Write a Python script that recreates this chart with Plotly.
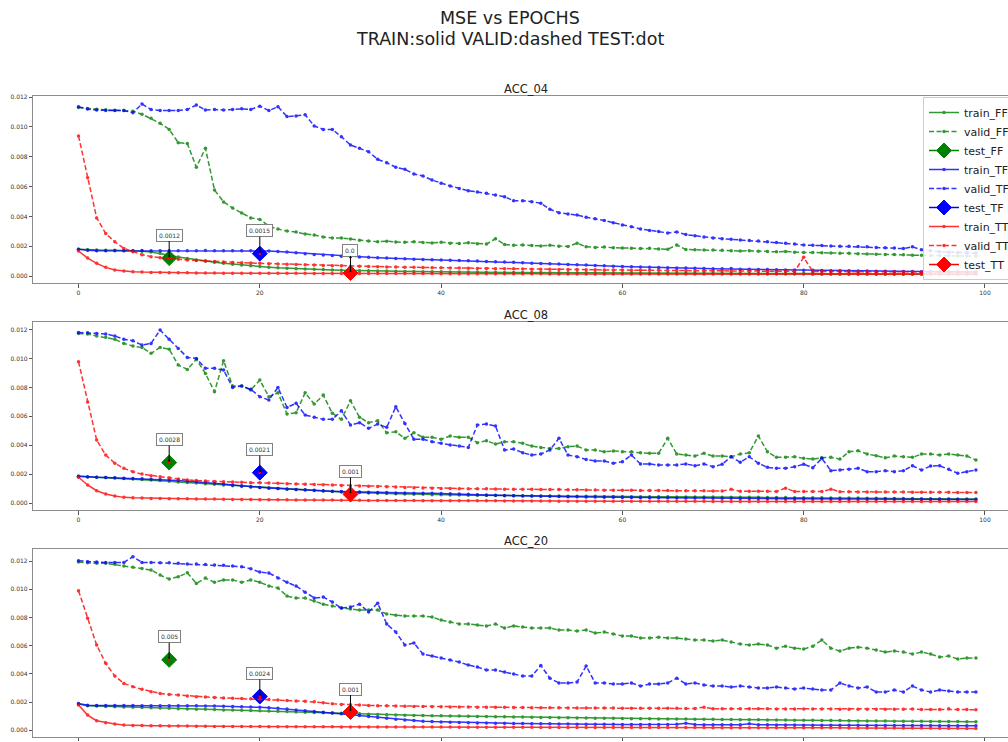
import plotly.graph_objects as go

# ---------------------------------------------------------------
# Data: per-epoch MSE, stored in units of 1e-4
# ---------------------------------------------------------------
SCALE = 1e-4
panels = ["ACC_04", "ACC_08", "ACC_20"]
models = ["FF", "TF", "TT"]

# ACC_04
train_ff_04 = [
    18.0, 17.6, 17.4, 17.3, 17.2, 17.1, 16.9, 16.6, 16.1, 15.2,
    14.0, 12.8, 11.8, 10.8, 10.0, 9.2, 8.5, 7.9, 7.3, 6.8,
    6.3, 5.9, 5.5, 5.2, 4.9, 4.7, 4.5, 4.3, 4.1, 3.9,
    3.7, 3.6, 3.5, 3.4, 3.3, 3.2, 3.1, 3.0, 2.9, 2.8,
    2.8, 2.7, 2.7, 2.6, 2.6, 2.5, 2.5, 2.4, 2.4, 2.3,
    2.3, 2.3, 2.2, 2.2, 2.2, 2.1, 2.1, 2.1, 2.0, 2.0,
    2.0, 2.0, 1.9, 1.9, 1.9, 1.9, 1.8, 1.8, 1.8, 1.8,
    1.8, 1.7, 1.7, 1.7, 1.7, 1.7, 1.6, 1.6, 1.6, 1.6,
    1.6, 1.6, 1.5, 1.5, 1.5, 1.5, 1.5, 1.5, 1.4, 1.4,
    1.4, 1.4, 1.4, 1.4, 1.4, 1.3, 1.3, 1.3, 1.3, 1.3]
valid_ff_04 = [
    113.0, 112.4, 111.9, 111.5, 111.2, 111.0, 110.6, 108.6, 105.8, 102.5,
    98.4, 89.5, 89.0, 73.0, 85.7, 57.7, 49.7, 45.6, 42.3, 39.0,
    38.0, 33.5, 31.5, 30.2, 29.5, 28.2, 27.5, 26.2, 25.5, 25.5,
    24.8, 24.0, 23.5, 23.0, 23.4, 22.8, 22.6, 23.0, 22.4, 22.2,
    22.6, 22.0, 21.8, 22.3, 21.6, 21.4, 25.0, 21.2, 20.6, 20.8,
    20.4, 20.2, 20.6, 20.0, 19.8, 22.0, 19.6, 19.2, 19.4, 19.0,
    18.8, 18.6, 18.4, 18.6, 18.2, 18.0, 20.8, 17.8, 17.6, 17.4,
    17.4, 17.2, 17.0, 16.8, 17.0, 16.6, 16.4, 16.2, 16.4, 16.0,
    15.8, 15.8, 15.6, 15.4, 15.2, 15.2, 15.0, 14.8, 14.6, 14.4,
    14.4, 14.2, 14.0, 14.0, 13.8, 13.6, 13.6, 13.4, 13.4, 13.2]
train_tf_04 = [
    18.0, 17.2, 17.0, 17.0, 17.0, 17.0, 17.0, 17.1, 17.0, 17.0,
    17.0, 17.0, 16.9, 17.0, 17.1, 17.0, 17.0, 17.0, 16.9, 17.0,
    17.0, 16.8, 16.5, 16.1, 15.6, 15.0, 14.5, 14.1, 13.7, 13.3,
    13.0, 12.7, 12.5, 12.3, 12.0, 11.7, 11.5, 11.3, 11.1, 10.9,
    10.8, 10.6, 10.4, 10.2, 10.0, 9.8, 9.6, 9.4, 9.2, 8.9,
    8.6, 8.4, 8.2, 8.0, 7.7, 7.5, 7.3, 7.0, 6.8, 6.6,
    6.4, 6.2, 6.0, 5.9, 5.7, 5.6, 5.4, 5.3, 5.2, 5.0,
    4.9, 4.8, 5.0, 4.6, 4.5, 4.4, 4.3, 4.2, 4.1, 4.0,
    3.9, 3.8, 3.7, 3.6, 3.5, 3.5, 3.4, 3.3, 3.2, 3.2,
    3.1, 3.0, 3.0, 2.9, 2.9, 2.8, 2.8, 2.7, 2.7, 2.6]
valid_tf_04 = [
    113.6, 112.0, 111.4, 111.0, 111.0, 111.0, 109.6, 115.4, 111.8, 111.0,
    111.0, 111.0, 111.8, 114.7, 111.4, 111.8, 111.4, 111.8, 112.2, 111.8,
    114.0, 111.0, 113.6, 107.0, 107.4, 108.2, 100.7, 98.4, 98.4, 93.5,
    87.9, 85.7, 83.4, 78.3, 76.0, 73.0, 71.6, 68.4, 67.1, 64.4,
    62.2, 60.4, 58.8, 57.2, 56.4, 55.5, 54.4, 53.2, 50.5, 50.5,
    49.9, 48.8, 44.8, 42.5, 41.6, 40.9, 39.4, 38.5, 37.2, 35.8,
    34.2, 33.0, 31.6, 30.6, 29.8, 28.9, 29.6, 27.8, 27.0, 26.2,
    25.5, 25.0, 24.6, 24.2, 23.8, 23.5, 23.0, 22.4, 21.9, 21.4,
    20.8, 20.6, 20.4, 20.2, 20.0, 20.0, 19.8, 19.6, 19.2, 19.0,
    18.8, 18.4, 19.6, 17.6, 17.0, 16.2, 16.0, 15.8, 15.6, 15.4]
train_tt_04 = [
    16.8, 12.0, 8.5, 5.8, 4.0, 3.3, 2.9, 2.6, 2.4, 2.3,
    2.2, 2.1, 2.1, 2.0, 2.0, 2.0, 1.9, 1.9, 1.9, 1.9,
    1.8, 1.8, 1.8, 1.8, 1.8, 1.8, 1.7, 1.7, 1.7, 1.7,
    1.7, 1.7, 1.6, 1.6, 1.6, 1.6, 1.6, 1.6, 1.6, 1.6,
    1.5, 1.5, 1.5, 1.5, 1.5, 1.5, 1.5, 1.5, 1.5, 1.5,
    1.5, 1.5, 1.4, 1.4, 1.4, 1.4, 1.4, 1.4, 1.4, 1.4,
    1.4, 1.4, 1.4, 1.4, 1.4, 1.4, 1.4, 1.4, 1.4, 1.4,
    1.3, 1.3, 1.3, 1.3, 1.3, 1.3, 1.3, 1.3, 1.3, 1.3,
    1.3, 1.2, 1.2, 1.2, 1.2, 1.2, 1.2, 1.2, 1.2, 1.2,
    1.2, 1.2, 1.2, 1.2, 1.2, 1.1, 1.1, 1.1, 1.1, 1.1]
valid_tt_04 = [
    94.0, 66.0, 39.0, 28.5, 23.0, 18.5, 16.3, 14.3, 13.0, 12.3,
    11.9, 11.3, 10.8, 10.4, 10.0, 9.7, 9.4, 9.1, 8.9, 8.7,
    8.5, 8.3, 8.1, 7.9, 7.7, 7.5, 7.3, 7.1, 6.9, 6.8,
    6.6, 6.5, 6.4, 6.2, 6.1, 6.0, 5.9, 5.8, 5.7, 5.6,
    5.5, 5.4, 5.3, 5.2, 5.1, 5.0, 4.9, 4.9, 4.8, 4.7,
    4.6, 4.6, 4.5, 4.4, 4.4, 4.3, 4.2, 4.2, 4.1, 4.0,
    4.0, 3.9, 3.9, 3.8, 3.8, 3.7, 3.7, 3.6, 3.6, 3.5,
    3.5, 3.4, 3.4, 3.4, 3.3, 3.3, 3.2, 3.2, 3.2, 3.1,
    12.5, 3.1, 3.0, 3.0, 3.0, 2.9, 2.9, 2.9, 2.8, 2.8,
    2.8, 2.8, 2.7, 2.7, 2.7, 2.7, 2.6, 2.6, 2.6, 2.6]

# ACC_08
train_ff_08 = [
    18.5, 18.2, 17.9, 17.6, 17.3, 17.0, 16.7, 16.3, 15.9, 15.5,
    15.0, 14.6, 14.2, 13.8, 13.4, 13.0, 12.5, 12.0, 11.5, 11.1,
    10.7, 10.3, 10.0, 9.6, 9.3, 9.0, 8.6, 8.3, 8.0, 7.7,
    7.4, 7.2, 7.0, 6.8, 6.6, 6.4, 6.2, 6.1, 6.0, 5.8,
    5.7, 5.6, 5.5, 5.4, 5.3, 5.2, 5.2, 5.1, 5.0, 5.0,
    4.9, 4.9, 4.8, 4.8, 4.7, 4.7, 4.6, 4.6, 4.5, 4.5,
    4.5, 4.4, 4.4, 4.3, 4.3, 4.3, 4.2, 4.2, 4.1, 4.1,
    4.1, 4.0, 4.0, 4.0, 3.9, 3.9, 3.8, 3.8, 3.8, 3.7,
    3.7, 3.6, 3.6, 3.5, 3.5, 3.4, 3.4, 3.3, 3.3, 3.2,
    3.2, 3.1, 3.1, 3.0, 3.0, 2.9, 2.9, 2.8, 2.8, 2.8]
valid_ff_08 = [
    117.4, 117.0, 115.6, 114.7, 113.3, 110.5, 108.6, 107.7, 103.6, 107.7,
    106.4, 95.5, 92.5, 99.4, 89.7, 77.0, 98.5, 81.0, 81.0, 78.2,
    85.1, 73.6, 76.3, 61.6, 62.5, 76.3, 68.5, 74.7, 62.1, 57.9,
    70.8, 59.3, 55.6, 57.0, 48.6, 49.3, 44.8, 48.6, 45.5, 45.5,
    44.1, 46.4, 45.5, 45.5, 41.7, 43.1, 40.8, 42.4, 42.4, 41.3,
    39.4, 38.5, 37.8, 37.8, 39.0, 39.4, 36.7, 36.7, 35.5, 36.0,
    35.5, 35.5, 34.8, 34.4, 34.4, 44.8, 33.9, 33.2, 32.5, 34.4,
    32.5, 32.5, 32.0, 33.9, 34.8, 46.4, 35.5, 31.6, 31.6, 32.0,
    30.9, 30.4, 31.3, 31.6, 30.4, 35.5, 36.2, 33.9, 32.7, 31.3,
    32.5, 32.0, 31.6, 33.9, 33.9, 33.2, 33.9, 33.2, 32.5, 29.8]
train_tf_08 = [
    18.6, 18.0, 17.8, 17.6, 17.4, 17.2, 17.0, 16.8, 16.5, 16.2,
    15.9, 15.5, 15.1, 14.7, 14.2, 13.7, 13.1, 12.5, 11.9, 11.3,
    10.8, 10.4, 10.1, 9.7, 9.4, 9.1, 8.8, 8.5, 8.2, 8.0,
    7.8, 7.6, 7.4, 7.3, 7.2, 7.0, 6.9, 6.8, 6.7, 6.7,
    6.6, 6.4, 6.2, 6.0, 5.8, 5.6, 5.4, 5.2, 5.0, 4.9,
    4.8, 4.7, 4.6, 4.5, 4.4, 4.3, 4.2, 4.1, 4.0, 3.9,
    3.8, 3.8, 3.7, 3.7, 3.6, 3.6, 3.5, 3.5, 3.4, 3.4,
    3.3, 3.3, 3.3, 3.2, 3.2, 3.1, 3.1, 3.1, 3.0, 3.0,
    3.0, 2.9, 2.9, 2.9, 2.8, 2.8, 2.8, 2.7, 2.7, 2.7,
    2.7, 2.6, 2.6, 2.6, 2.6, 2.5, 2.5, 2.5, 2.5, 2.5]
valid_tf_08 = [
    118.0, 117.8, 117.4, 117.0, 115.6, 113.3, 112.3, 109.3, 110.5, 119.7,
    113.3, 107.0, 100.8, 100.1, 93.2, 93.2, 92.0, 80.0, 81.0, 78.7,
    73.6, 71.3, 80.0, 66.2, 69.0, 60.9, 59.3, 57.9, 57.9, 63.9,
    54.0, 55.6, 51.7, 54.7, 52.4, 66.6, 55.1, 44.1, 44.1, 42.4,
    41.3, 40.1, 39.4, 38.5, 54.0, 54.7, 53.3, 36.7, 37.4, 34.8,
    33.2, 33.9, 36.7, 44.8, 33.2, 32.0, 30.2, 29.1, 29.1, 27.5,
    28.6, 33.2, 27.0, 27.0, 26.3, 26.3, 26.3, 27.0, 25.8, 27.0,
    25.1, 26.8, 32.0, 28.2, 32.0, 27.5, 24.7, 24.0, 24.0, 25.1,
    26.8, 24.4, 30.9, 22.4, 22.8, 23.3, 24.0, 21.7, 21.7, 22.4,
    21.7, 22.4, 25.8, 22.8, 25.6, 25.8, 23.3, 20.6, 21.7, 22.8]
train_tt_08 = [
    17.8, 12.5, 8.5, 6.2, 4.8, 3.9, 3.6, 3.4, 3.2, 3.1,
    3.0, 2.9, 2.9, 2.8, 2.7, 2.7, 2.6, 2.5, 2.5, 2.4,
    2.3, 2.3, 2.2, 2.2, 2.1, 2.1, 2.0, 2.0, 2.0, 1.9,
    1.9, 1.9, 1.8, 1.8, 1.8, 1.7, 1.7, 1.7, 1.6, 1.6,
    1.6, 1.6, 1.5, 1.5, 1.5, 1.5, 1.5, 1.4, 1.4, 1.4,
    1.4, 1.4, 1.4, 1.3, 1.3, 1.3, 1.3, 1.3, 1.3, 1.3,
    1.2, 1.2, 1.2, 1.2, 1.2, 1.2, 1.2, 1.2, 1.2, 1.2,
    1.1, 1.1, 1.1, 1.1, 1.1, 1.1, 1.1, 1.1, 1.1, 1.1,
    1.1, 1.1, 1.0, 1.0, 1.0, 1.0, 1.0, 1.0, 1.0, 1.0,
    1.0, 1.0, 1.0, 1.0, 1.0, 1.0, 1.0, 1.0, 1.0, 1.0]
valid_tt_08 = [
    97.8, 70.0, 43.6, 33.2, 27.5, 24.0, 21.7, 20.0, 18.9, 18.2,
    17.5, 16.6, 16.0, 15.5, 15.2, 14.9, 14.7, 14.5, 14.3, 14.1,
    14.0, 13.8, 13.6, 13.4, 13.2, 13.0, 12.8, 12.6, 12.4, 12.2,
    12.0, 11.8, 11.6, 11.4, 11.2, 11.0, 10.8, 10.6, 10.4, 10.2,
    10.1, 10.0, 9.9, 9.9, 9.8, 9.8, 9.7, 9.6, 9.6, 9.5,
    9.5, 9.4, 9.3, 9.3, 9.2, 9.1, 9.0, 9.0, 8.9, 8.9,
    8.8, 8.8, 8.7, 8.7, 8.6, 8.6, 8.5, 8.5, 8.4, 8.4,
    8.3, 8.3, 9.5, 8.2, 8.2, 8.1, 8.1, 8.0, 10.3, 8.0,
    7.9, 7.9, 7.9, 9.6, 7.8, 7.8, 7.7, 7.7, 7.7, 7.6,
    7.6, 7.6, 7.5, 7.5, 7.5, 7.4, 7.4, 7.3, 7.3, 7.2]

# ACC_20
train_ff_20 = [
    18.6, 17.4, 17.2, 17.0, 16.8, 16.6, 16.4, 16.2, 16.0, 15.8,
    15.6, 15.4, 15.2, 15.0, 14.9, 14.7, 14.5, 14.4, 14.2, 14.0,
    13.9, 13.7, 13.5, 13.3, 13.1, 12.9, 12.7, 12.5, 12.3, 12.1,
    12.0, 11.8, 11.5, 11.2, 11.0, 10.8, 10.7, 10.6, 10.5, 10.4,
    10.3, 10.2, 10.1, 10.0, 9.9, 9.8, 9.7, 9.6, 9.5, 9.4,
    9.3, 9.2, 9.1, 9.0, 8.9, 8.8, 8.7, 8.6, 8.5, 8.5,
    8.4, 8.3, 8.3, 8.2, 8.1, 8.1, 8.0, 8.0, 7.9, 7.9,
    7.8, 7.7, 7.7, 7.6, 7.5, 7.5, 7.4, 7.3, 7.3, 7.2,
    7.1, 7.1, 7.0, 6.9, 6.9, 6.8, 6.7, 6.7, 6.6, 6.6,
    6.5, 6.5, 6.4, 6.4, 6.3, 6.3, 6.2, 6.2, 6.1, 6.1]
valid_ff_20 = [
    119.3, 118.8, 118.4, 118.4, 117.7, 116.5, 115.6, 114.8, 113.7, 110.1,
    107.3, 108.9, 111.7, 104.2, 108.0, 105.0, 106.6, 106.6, 105.0, 106.6,
    105.0, 102.3, 101.0, 95.2, 93.8, 93.8, 91.7, 89.5, 88.1, 86.7,
    86.0, 85.3, 85.3, 85.3, 82.5, 81.7, 81.0, 81.0, 81.0, 80.3,
    78.2, 76.8, 75.4, 75.4, 74.7, 74.0, 75.4, 72.5, 74.0, 73.3,
    72.5, 72.5, 72.5, 71.1, 71.1, 70.4, 71.1, 69.0, 69.7, 68.3,
    66.9, 66.9, 65.4, 65.4, 66.1, 65.4, 65.4, 64.7, 64.0, 64.0,
    63.3, 64.0, 62.6, 61.2, 60.5, 61.2, 60.5, 58.3, 59.7, 58.3,
    57.6, 59.7, 64.0, 58.3, 56.2, 58.3, 59.0, 58.3, 56.9, 55.5,
    56.2, 55.5, 54.1, 55.5, 54.1, 52.0, 52.7, 50.6, 51.3, 51.3]
train_tf_20 = [
    19.0, 17.8, 17.7, 17.7, 17.6, 17.6, 17.6, 17.5, 17.5, 17.5,
    17.4, 17.4, 17.4, 17.4, 17.3, 17.2, 17.1, 17.0, 16.8, 16.6,
    16.3, 16.0, 15.6, 15.1, 14.5, 13.9, 13.4, 12.8, 12.3, 11.8,
    11.3, 10.6, 9.9, 9.2, 8.5, 7.8, 7.3, 6.9, 6.5, 6.2,
    6.0, 5.8, 5.6, 5.4, 5.3, 5.2, 5.1, 5.0, 4.9, 4.8,
    4.7, 4.6, 4.6, 4.5, 4.5, 4.4, 4.4, 4.3, 4.3, 4.3,
    4.2, 4.2, 4.2, 4.1, 4.1, 4.1, 4.3, 5.0, 4.1, 4.0,
    4.0, 4.0, 4.0, 3.9, 4.6, 3.9, 3.9, 3.8, 3.8, 3.8,
    3.7, 3.7, 3.7, 3.6, 3.6, 3.6, 3.6, 3.5, 3.5, 3.5,
    3.5, 3.4, 3.4, 3.4, 3.4, 3.3, 3.3, 3.3, 3.3, 3.3]
valid_tf_20 = [
    120.3, 119.6, 119.3, 119.1, 119.1, 119.1, 123.1, 119.1, 119.1, 118.8,
    118.8, 118.4, 117.9, 117.9, 117.6, 117.2, 117.0, 116.6, 116.0, 114.5,
    112.2, 111.5, 108.0, 105.0, 102.3, 98.0, 93.8, 94.5, 91.0, 86.7,
    87.4, 89.5, 83.9, 90.2, 75.4, 69.7, 60.5, 61.9, 54.1, 52.7,
    51.3, 49.8, 48.4, 46.3, 44.9, 42.8, 42.8, 41.3, 39.9, 38.5,
    38.5, 46.0, 37.0, 33.6, 33.6, 34.3, 45.6, 33.6, 33.6, 32.9,
    32.9, 33.6, 31.4, 32.9, 32.9, 33.6, 37.0, 32.9, 33.6, 32.2,
    31.4, 31.4, 30.7, 31.4, 30.7, 30.0, 30.0, 30.7, 30.0, 29.3,
    30.0, 29.3, 28.6, 28.6, 33.6, 31.4, 30.0, 30.7, 27.2, 27.2,
    28.6, 27.2, 31.4, 28.6, 27.2, 28.6, 27.9, 27.2, 27.2, 27.2]
train_tt_20 = [
    17.9, 10.8, 6.8, 5.4, 4.5, 3.8, 3.5, 3.4, 3.3, 3.2,
    3.1, 3.0, 3.0, 2.9, 2.9, 2.8, 2.8, 2.8, 2.7, 2.7,
    2.7, 2.6, 2.6, 2.6, 2.6, 2.5, 2.5, 2.5, 2.5, 2.4,
    2.4, 2.4, 2.4, 2.4, 2.4, 2.3, 2.3, 2.3, 2.3, 2.3,
    2.3, 2.3, 2.2, 2.2, 2.2, 2.2, 2.2, 2.2, 2.2, 2.2,
    2.2, 2.1, 2.1, 2.1, 2.1, 2.1, 2.1, 2.1, 2.1, 2.1,
    2.0, 2.0, 2.0, 2.0, 2.0, 2.0, 2.0, 2.0, 2.0, 2.0,
    1.9, 1.9, 1.9, 1.9, 1.9, 1.9, 1.9, 1.9, 1.9, 1.9,
    1.8, 1.8, 1.8, 1.8, 1.8, 1.7, 1.7, 1.7, 1.7, 1.7,
    1.6, 1.6, 1.6, 1.6, 1.6, 1.5, 1.5, 1.5, 1.4, 1.4]
valid_tt_20 = [
    99.0, 79.4, 60.5, 47.5, 38.5, 33.3, 30.9, 29.1, 27.4, 26.2,
    25.5, 25.0, 24.3, 23.8, 23.6, 23.3, 23.0, 22.8, 22.6, 22.4,
    22.2, 21.9, 21.6, 21.2, 20.9, 20.6, 20.2, 19.6, 18.8, 18.4,
    18.1, 17.9, 17.7, 17.5, 17.4, 17.2, 17.1, 17.0, 16.9, 16.8,
    16.7, 16.6, 16.5, 16.5, 16.4, 16.4, 16.3, 16.3, 16.2, 16.2,
    16.1, 16.1, 16.0, 16.0, 15.9, 15.9, 15.9, 15.8, 15.8, 15.8,
    15.7, 15.7, 15.7, 15.6, 15.6, 15.6, 15.6, 15.5, 15.5, 16.4,
    15.4, 15.4, 15.4, 15.3, 15.3, 15.3, 15.3, 15.2, 15.2, 15.2,
    15.1, 15.1, 15.1, 15.1, 15.0, 15.0, 15.0, 15.0, 14.9, 14.9,
    14.9, 14.9, 15.2, 14.8, 14.8, 14.8, 15.3, 14.8, 14.7, 14.6]

# Test-set MSE, one value per panel, plotted at a fixed epoch per model
test_epoch = {"FF": 10, "TF": 20, "TT": 30}
test_ff = [0.0012, 0.0028, 0.005]
test_tf = [0.0015, 0.0021, 0.0024]
test_tt = [0.0002, 0.0006, 0.0013]
label_digits = {"FF": 4, "TF": 4, "TT": 3}

train = {
    "FF": [train_ff_04, train_ff_08, train_ff_20],
    "TF": [train_tf_04, train_tf_08, train_tf_20],
    "TT": [train_tt_04, train_tt_08, train_tt_20],
}
valid = {
    "FF": [valid_ff_04, valid_ff_08, valid_ff_20],
    "TF": [valid_tf_04, valid_tf_08, valid_tf_20],
    "TT": [valid_tt_04, valid_tt_08, valid_tt_20],
}
test = {"FF": test_ff, "TF": test_tf, "TT": test_tt}
colors = {"FF": "#008000", "TF": "#0000ff", "TT": "#ff0000"}

# ---------------------------------------------------------------
# Layout geometry (pixels on a 1008 x 742 canvas)
# ---------------------------------------------------------------
W, H = 1008, 742
FONT = "DejaVu Sans"
ax_left = 33.3
frames = [(96.0, 283.3), (322.0, 510.0), (548.7, 736.7)]   # (top, bottom)
y_ranges = [[-0.00049, 0.01208], [-0.000484, 0.01253], [-0.00045, 0.01288]]
x_range = [-4.99, 102.54]

fig = go.Figure()

for p in range(3):
    xa = "x" if p == 0 else f"x{p + 1}"
    ya = "y" if p == 0 else f"y{p + 1}"
    first = p == 0
    for m in models:
        c = colors[m]
        tr = [v * SCALE for v in train[m][p]]
        va = [v * SCALE for v in valid[m][p]]
        fig.add_trace(go.Scatter(
            x=list(range(len(tr))), y=tr, mode="lines+markers",
            name=f"train_{m}", xaxis=xa, yaxis=ya, showlegend=first,
            line=dict(color=c, width=1.5), opacity=0.8,
            marker=dict(size=3.5, color=c)))
        fig.add_trace(go.Scatter(
            x=list(range(len(va))), y=va, mode="lines+markers",
            name=f"valid_{m}", xaxis=xa, yaxis=ya, showlegend=first,
            line=dict(color=c, width=1.5, dash="5px,2.5px"), opacity=0.8,
            marker=dict(size=3.5, color=c)))
        tv = test[m][p]
        fig.add_trace(go.Scatter(
            x=[test_epoch[m]], y=[tv], mode="lines+markers",
            name=f"test_{m}", xaxis=xa, yaxis=ya, showlegend=first,
            line=dict(color=c, width=1.5),
            marker=dict(symbol="diamond", size=11.5, color=c,
                        line=dict(color=c, width=1))))
        # small centre dot on the test marker
        fig.add_trace(go.Scatter(
            x=[test_epoch[m]], y=[tv], mode="markers", showlegend=False,
            xaxis=xa, yaxis=ya, hoverinfo="skip",
            marker=dict(size=2.5, color="#ff0000")))
        fig.add_annotation(
            x=test_epoch[m], y=tv, xref=xa, yref=ya,
            text=str(round(tv, label_digits[m])),
            showarrow=True, arrowhead=6, arrowsize=0.5, arrowwidth=1,
            arrowcolor="#000000", standoff=2, ax=0, ay=-23,
            bgcolor="#ffffff", bordercolor="#808080", borderwidth=1,
            borderpad=2, font=dict(family=FONT, size=6, color="#333333"))

    top, bot = frames[p]
    dom_y = [1 - bot / H, 1 - top / H]
    axis_common = dict(showline=True, linecolor="#8c8c8c", linewidth=1,
                       showgrid=False, zeroline=False, ticks="outside",
                       ticklen=3.5, tickwidth=0.8, tickcolor="#555555",
                       tickfont=dict(family=FONT, size=6, color="#333333"),
                       automargin=False)
    fig.layout[f"xaxis{'' if first else p + 1}"] = dict(
        axis_common, domain=[ax_left / W, 1.0], range=x_range,
        anchor=ya, mirror=True, tickvals=[0, 20, 40, 60, 80, 100])
    fig.layout[f"yaxis{'' if first else p + 1}"] = dict(
        axis_common, domain=dom_y, range=y_ranges[p], anchor=xa,
        mirror=False, tickvals=[0, 0.002, 0.004, 0.006, 0.008, 0.010, 0.012],
        tickformat=".3f")
    fig.add_annotation(
        text=panels[p], x=525.7 / W, y=1 - (top - 7.5) / H,
        xref="paper", yref="paper", showarrow=False,
        xanchor="center", yanchor="middle",
        font=dict(family=FONT, size=11.5, color="#222222"))

# Figure titles
fig.add_annotation(text="MSE vs EPOCHS", x=510 / W, y=1 - 18 / H,
                   xref="paper", yref="paper", showarrow=False,
                   xanchor="center", yanchor="middle",
                   font=dict(family=FONT, size=17.5, color="#222222"))
fig.add_annotation(text="TRAIN:solid VALID:dashed TEST:dot", x=510 / W,
                   y=1 - 39 / H, xref="paper", yref="paper", showarrow=False,
                   xanchor="center", yanchor="middle",
                   font=dict(family=FONT, size=17.5, color="#222222"))

fig.update_layout(
    width=W, height=H, autosize=False,
    margin=dict(l=0, r=0, t=0, b=0, autoexpand=False),
    paper_bgcolor="#ffffff", plot_bgcolor="#ffffff",
    font=dict(family=FONT),
    legend=dict(x=923 / W, y=1 - 97 / H, xanchor="left", yanchor="top",
                bgcolor="rgba(255,255,255,0.85)", bordercolor="#cccccc",
                borderwidth=1, font=dict(family=FONT, size=11, color="#222222"),
                tracegroupgap=0, itemwidth=30),
)

fig.write_html("out.html")
